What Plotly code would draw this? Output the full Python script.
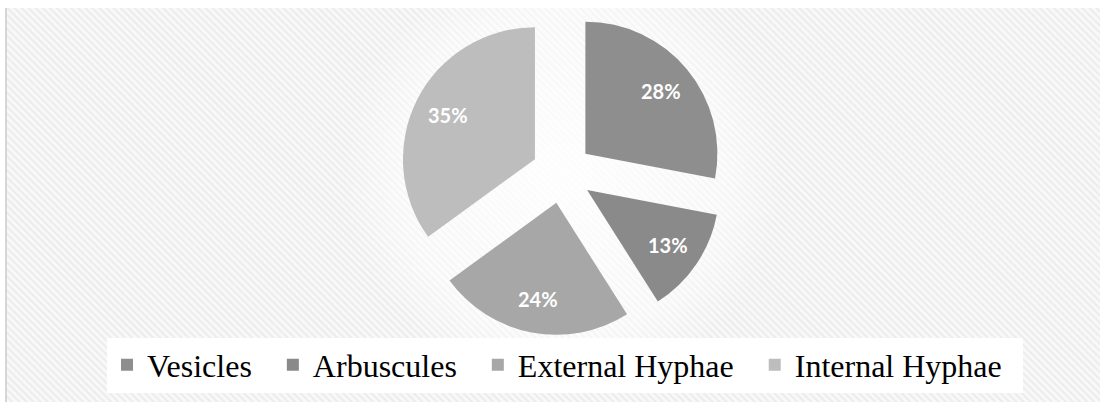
import base64
import math
import plotly.graph_objects as go

labels = ["Vesicles", "Arbuscules", "External Hyphae", "Internal Hyphae"]
values = [28, 13, 24, 35]
colors = ["#8e8e8e", "#8a8a8a", "#a7a7a7", "#bdbdbd"]
pulls = [0.23, 0.23, 0.23, 0.23]

W, H = 1100, 402

svg = (
    "<svg xmlns='http://www.w3.org/2000/svg' width='1094' height='394'>"
    "<defs>"
    "<pattern id='p' width='5' height='5' patternUnits='userSpaceOnUse' patternTransform='rotate(-45)'>"
    "<rect width='5' height='5' fill='#f8f8f8'/><rect width='2' height='5' fill='#ececec'/>"
    "</pattern>"
    "<radialGradient id='g' cx='556' cy='165' r='220' gradientUnits='userSpaceOnUse'>"
    "<stop offset='0' stop-color='#ffffff' stop-opacity='0.9'/>"
    "<stop offset='0.75' stop-color='#ffffff' stop-opacity='0.5'/>"
    "<stop offset='1' stop-color='#ffffff' stop-opacity='0'/>"
    "</radialGradient>"
    "</defs>"
    "<rect width='100%' height='100%' fill='url(#p)'/>"
    "<rect width='100%' height='100%' fill='url(#g)'/>"
    "</svg>"
)
src = "data:image/svg+xml;base64," + base64.b64encode(svg.encode()).decode()

r = 132
box = 2 * r * (1 + max(pulls))
cx, cy = 562, 173

# legend entries padded so item spacing resembles the original
legend_labels = [lab + "\u00a0\u00a0" for lab in labels]

fig = go.Figure(
    go.Pie(
        labels=legend_labels,
        values=values,
        sort=False,
        direction="clockwise",
        rotation=0,
        pull=pulls,
        marker=dict(colors=colors, line=dict(width=0)),
        textinfo="none",
        domain=dict(
            x=[(cx - box / 2) / W, (cx + box / 2) / W],
            y=[1 - (cy + box / 2) / H, 1 - (cy - box / 2) / H],
        ),
        hoverinfo="label+percent",
    )
)

# percentage labels placed along each slice's bisector
total = sum(values)
cum = 0
annotations = []
for v, p in zip(values, pulls):
    theta = math.radians((cum + v / 2) / total * 360)
    cum += v
    R = p * r + 0.74 * r
    px = cx + R * math.sin(theta)
    py = cy - R * math.cos(theta)
    annotations.append(
        dict(
            x=px / W,
            y=1 - py / H,
            xref="paper",
            yref="paper",
            text=f"{round(v / total * 100)}%",
            showarrow=False,
            xanchor="center",
            yanchor="middle",
            font=dict(family="Lato", size=20, color="white", weight="bold"),
        )
    )

fig.update_layout(
    width=W,
    height=H,
    margin=dict(l=0, r=0, t=0, b=0, autoexpand=False),
    paper_bgcolor="white",
    plot_bgcolor="white",
    images=[
        dict(
            source=src,
            xref="paper",
            yref="paper",
            x=6 / W,
            y=1 - 8 / H,
            sizex=1 - 6 / W,
            sizey=1 - 8 / H,
            xanchor="left",
            yanchor="top",
            sizing="stretch",
            layer="below",
        )
    ],
    shapes=[
        dict(
            type="line",
            xref="paper",
            yref="paper",
            x0=6 / W,
            x1=6 / W,
            y0=0,
            y1=1 - 8 / H,
            line=dict(color="#d6d6d6", width=2),
        )
    ],
    annotations=annotations,
    legend=dict(
        orientation="h",
        x=565 / W,
        xanchor="center",
        y=1 - 365 / H,
        yanchor="middle",
        bgcolor="white",
        font=dict(family="Liberation Serif", size=32, color="black"),
        itemclick=False,
        itemdoubleclick=False,
        traceorder="normal",
    ),
    showlegend=True,
)

fig.write_html("out.html")
